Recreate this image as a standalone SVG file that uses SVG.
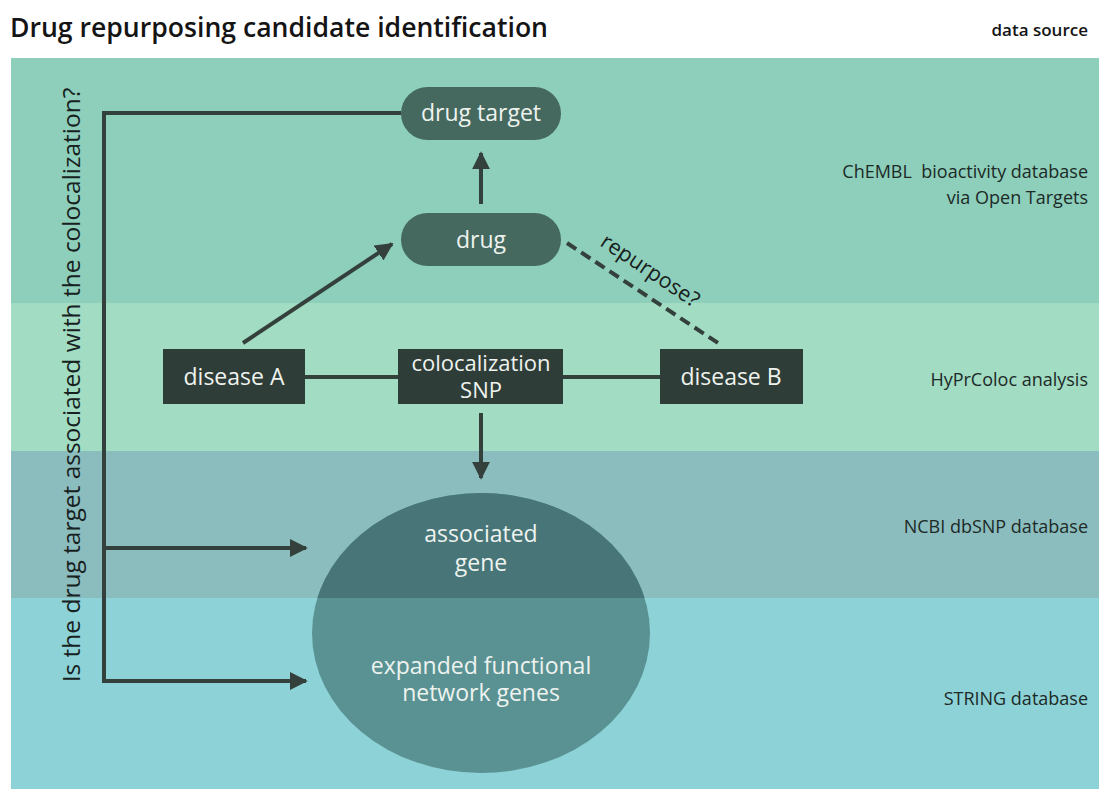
<svg xmlns="http://www.w3.org/2000/svg" width="1099" height="789" viewBox="0 0 1099 789">
  <style>
    .title { font-family: "Open Sans", Lato, sans-serif; font-weight: 600; font-size: 26.6px; fill: #141414; }
    .src { font-family: "Open Sans", Lato, sans-serif; font-size: 18px; fill: #1d2a27; text-anchor: end; white-space: pre; }
    .node { font-family: "Open Sans", Lato, sans-serif; font-size: 23px; fill: #eef3ef; text-anchor: middle; }
    .side { font-family: "Open Sans", Lato, sans-serif; font-size: 24.5px; fill: #17211d; text-anchor: middle; }
    .pill { fill: #45695f; }
    .box { fill: #2e3d37; }
    .line { stroke: #34403b; stroke-width: 4; fill: none; }
  </style>
  <defs>
    <marker id="arrow" viewBox="0 0 10 10" refX="9" refY="5" markerWidth="4.5" markerHeight="4.5" orient="auto" markerUnits="strokeWidth">
      <path d="M0,0 L10,5 L0,10 Z" fill="#34403b"/>
    </marker>
    <clipPath id="upperBand">
      <rect x="0" y="0" width="1099" height="598"/>
    </clipPath>
  </defs>

  <rect width="1099" height="789" fill="#ffffff"/>

  <!-- header -->
  <text class="title" x="10" y="37">Drug repurposing candidate identification</text>
  <text class="src" x="1088" y="36" style="font-weight:600;font-size:17px;fill:#141414">data source</text>

  <!-- data-source bands -->
  <g id="bands">
    <rect x="11" y="58" width="1088" height="245" fill="#8dcfbb"/>
    <rect x="11" y="303" width="1088" height="148" fill="#a1dcc3"/>
    <rect x="11" y="451" width="1088" height="147" fill="#8bbdbe"/>
    <rect x="11" y="598" width="1088" height="191" fill="#8cd2d6"/>
  </g>

  <g id="source-labels">
    <text class="src" x="1088" y="178" xml:space="preserve">ChEMBL  bioactivity database</text>
    <text class="src" x="1088" y="204">via Open Targets</text>
    <text class="src" x="1088" y="386">HyPrColoc analysis</text>
    <text class="src" x="1088" y="533">NCBI dbSNP database</text>
    <text class="src" x="1088" y="705">STRING database</text>
  </g>

  <!-- connectors -->
  <g id="connectors">
    <line class="line" x1="481" y1="204" x2="481" y2="153" marker-end="url(#arrow)"/>
    <line class="line" x1="243" y1="343" x2="392" y2="244" marker-end="url(#arrow)"/>
    <line class="line" x1="567" y1="243" x2="718" y2="343" stroke-dasharray="11 6"/>
    <line class="line" x1="305" y1="377" x2="398" y2="377"/>
    <line class="line" x1="563" y1="377" x2="660" y2="377"/>
    <line class="line" x1="481" y1="413" x2="481" y2="478" marker-end="url(#arrow)"/>
    <polyline class="line" points="401,113 104,113 104,681"/>
    <line class="line" x1="102" y1="548" x2="306" y2="548" marker-end="url(#arrow)"/>
    <line class="line" x1="102" y1="681" x2="306" y2="681" marker-end="url(#arrow)"/>
    <text x="0" y="0" transform="translate(599,245) rotate(33.7)" style="font-family:'Open Sans',Lato,sans-serif;font-size:21.5px;fill:#17211d">repurpose?</text>
  </g>

  <text class="side" transform="translate(80,385) rotate(-90)">Is the drug target associated with the colocalization?</text>

  <!-- nodes -->
  <g id="drug-target">
    <rect class="pill" x="401" y="87" width="160" height="53" rx="26.5"/>
    <text class="node" x="481" y="121">drug target</text>
  </g>
  <g id="drug">
    <rect class="pill" x="401" y="213" width="160" height="53" rx="26.5"/>
    <text class="node" x="481" y="248">drug</text>
  </g>
  <g id="disease-a">
    <rect class="box" x="163" y="349" width="142" height="55"/>
    <text class="node" x="234" y="385">disease A</text>
  </g>
  <g id="colocalization-snp">
    <rect class="box" x="398" y="349" width="165" height="55"/>
    <text class="node" x="481" y="371" style="font-size:22px">colocalization</text>
    <text class="node" x="481" y="398" style="font-size:22px">SNP</text>
  </g>
  <g id="disease-b">
    <rect class="box" x="660" y="349" width="143" height="55"/>
    <text class="node" x="731" y="385">disease B</text>
  </g>
  <g id="gene-sets">
    <ellipse cx="481" cy="633" rx="169" ry="140" fill="#5a9293"/>
    <ellipse cx="481" cy="633" rx="169" ry="140" fill="#477578" clip-path="url(#upperBand)"/>
    <text class="node" x="481" y="542">associated</text>
    <text class="node" x="481" y="571">gene</text>
    <text class="node" x="481" y="674">expanded functional</text>
    <text class="node" x="481" y="701">network genes</text>
  </g>
</svg>
